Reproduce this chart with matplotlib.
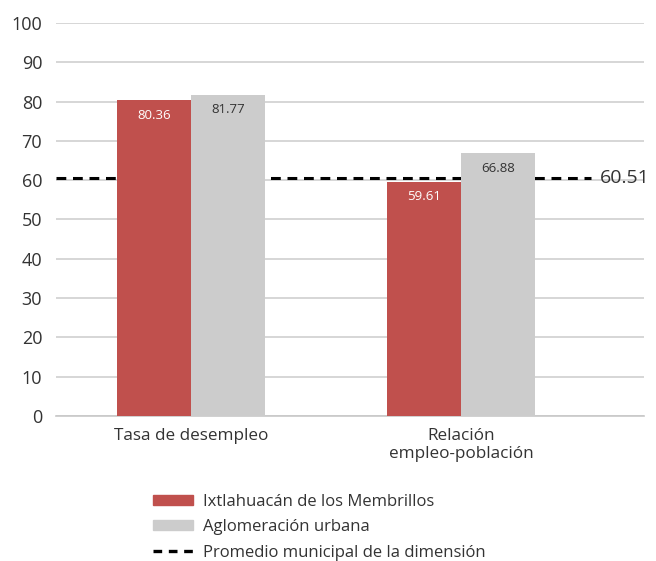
import matplotlib.pyplot as plt
import matplotlib.patches as mpatches
from matplotlib.lines import Line2D
import numpy as np

plt.rcParams['font.family'] = ['Open Sans', 'DejaVu Sans']

categories = ["Tasa de desempleo", "Relación\nempleo-población"]
municipio = [80.36, 59.61]
aglomeracion = [81.77, 66.88]
promedio = 60.51
series_names = ["Ixtlahuacán de los Membrillos", "Aglomeración urbana",
                "Promedio municipal de la dimensión"]

red = "#C0504D"
grey = "#CCCCCC"
text_col = "#333333"

fig = plt.figure(figsize=(6.56, 5.61), dpi=100)
ax = fig.add_axes([0.0854, 0.2585, 0.897, 0.7005])

x = np.arange(len(categories))
w = 0.274
ax.axhline(promedio, xmin=0, xmax=0.91, color="black", linestyle=(0, (3.2, 2.2)),
           linewidth=2.2, zorder=2)
b1 = ax.bar(x - w / 2, municipio, width=w, color=red, zorder=3)
b2 = ax.bar(x + w / 2, aglomeracion, width=w, color=grey, zorder=3)

for rect, v in zip(b1, municipio):
    ax.text(rect.get_x() + rect.get_width() / 2, v - 2.2, f"{v:.2f}", ha="center", va="top",
            color="white", fontsize=9.5)
for rect, v in zip(b2, aglomeracion):
    ax.text(rect.get_x() + rect.get_width() / 2, v - 2.2, f"{v:.2f}", ha="center", va="top",
            color=text_col, fontsize=9.5)

ax.text(0.924, promedio, f"{promedio:.2f}", transform=ax.get_yaxis_transform(),
        ha="left", va="center", fontsize=14, color=text_col)

ax.set_xlim(-0.5, 1.68)
ax.set_ylim(0, 100)
ax.set_yticks(np.arange(0, 101, 10))
ax.set_xticks(x)
ax.set_xticklabels(categories, fontsize=12.3, color=text_col, linespacing=1.15)
ax.tick_params(axis="y", length=0, pad=10, labelsize=13, labelcolor=text_col)
ax.tick_params(axis="x", length=0, pad=9)
ax.yaxis.grid(True, color="#D0D0D0", linewidth=1.2, zorder=0)
ax.set_axisbelow(True)
for s in ["top", "right", "left"]:
    ax.spines[s].set_visible(False)
ax.spines["bottom"].set_color("#C8C8C8")
ax.spines["bottom"].set_linewidth(1.2)

handles = [mpatches.Patch(color=red), mpatches.Patch(color=grey),
           Line2D([], [], color="black", linestyle=(0, (2.6, 2.0)), linewidth=2.4)]
fig.legend(handles, series_names, loc="upper left", bbox_to_anchor=(0.221, 0.135),
           frameon=False, fontsize=12, handlelength=2.4, handleheight=0.55,
           labelspacing=0.58, handletextpad=0.6, borderpad=0, labelcolor=text_col)

fig.savefig("out.png", dpi=100)
